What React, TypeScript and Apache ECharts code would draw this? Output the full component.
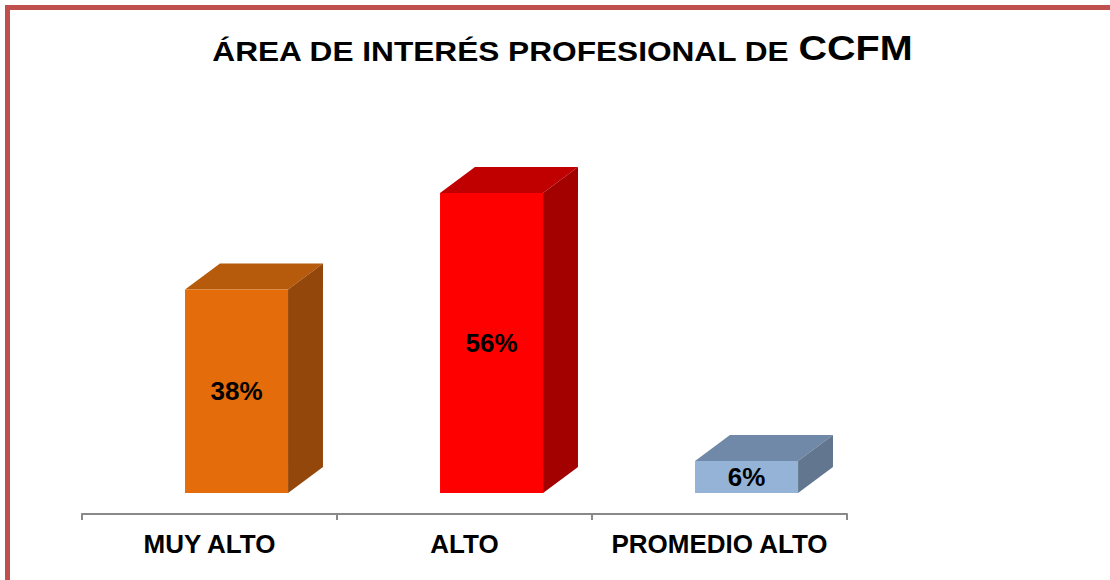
import React, { useEffect, useRef } from "react";
import * as echarts from "echarts";

const categories = ["MUY ALTO", "ALTO", "PROMEDIO ALTO"];
const values = [38, 56, 6];
const frontColors = ["#E46C0A", "#FF0000", "#95B3D7"];
const topColors = ["#B65A0B", "#C00000", "#7189A8"];
const sideColors = ["#94470A", "#A30000", "#62778F"];
const titleMain = "ÁREA DE INTERÉS PROFESIONAL DE ";
const titleAccent = "CCFM";

const FONT = "'Liberation Sans', Arial, Helvetica, sans-serif";

export default function App() {
  const ref = useRef<HTMLDivElement>(null);

  useEffect(() => {
    if (!ref.current) return;
    const chart = echarts.init(ref.current, null, { renderer: "svg" });

    const renderItem = (params: any, api: any) => {
      const idx = api.value(0);
      const val = api.value(1);
      const base = api.coord([idx, 0]);
      const topPt = api.coord([idx, val]);
      const bw = api.size([1, 0])[0];
      const cx = base[0];
      const lift = bw * 0.082;
      const L = cx - bw * 0.096;
      const R = L + bw * 0.404;
      const dx = bw * 0.137;
      const dy = bw * 0.102;
      const yb = base[1] - lift;
      const yt = topPt[1] - lift;
      const i = params.dataIndex;
      return {
        type: "group",
        children: [
          {
            type: "polygon",
            shape: { points: [[L, yt], [L + dx, yt - dy], [R + dx, yt - dy], [R, yt]] },
            style: { fill: topColors[i] },
          },
          {
            type: "polygon",
            shape: { points: [[R, yt], [R + dx, yt - dy], [R + dx, yb - dy], [R, yb]] },
            style: { fill: sideColors[i] },
          },
          {
            type: "polygon",
            shape: { points: [[L, yt], [R, yt], [R, yb], [L, yb]] },
            style: { fill: frontColors[i] },
          },
          {
            type: "text",
            style: {
              text: val + "%",
              x: (L + R) / 2,
              y: (yt + yb) / 2,
              align: "center",
              verticalAlign: "middle",
              fill: "#000000",
              fontFamily: FONT,
              fontWeight: "bold",
              fontSize: 26,
            },
          },
        ],
      };
    };

    chart.setOption({
      animation: false,
      backgroundColor: "#ffffff",
      grid: { left: 82, right: 263, top: 192.6, bottom: 66, containLabel: false },
      xAxis: {
        type: "category",
        data: categories,
        axisLine: { show: true, lineStyle: { color: "#898989", width: 2 } },
        axisTick: { show: true, interval: 0, length: 6, lineStyle: { color: "#898989", width: 2 } },
        axisLabel: {
          interval: 0,
          color: "#000000",
          fontFamily: FONT,
          fontWeight: "bold",
          fontSize: 26,
          verticalAlign: "middle",
          margin: 30,
        },
        splitLine: { show: false },
      },
      yAxis: {
        type: "value",
        min: 0,
        max: 60,
        show: false,
        splitLine: { show: false },
      },
      series: [
        {
          type: "custom",
          renderItem,
          clip: false,
          data: values.map((v, i) => [i, v]),
          encode: { x: 0, y: 1 },
        },
      ],
      graphic: [
        {
          type: "rect",
          shape: { x: 7.5, y: 7.5, width: 1200, height: 700 },
          style: { fill: "none", stroke: "#C0504D", lineWidth: 5 },
          silent: true,
        },
        {
          type: "text",
          x: 562,
          y: 47,
          scaleX: 1.13,
          style: {
            text: `{a|${titleMain}}{b|${titleAccent}}`,
            align: "center",
            verticalAlign: "middle",
            rich: {
              a: { fontFamily: FONT, fontWeight: "bold", fontSize: 28, fill: "#000000", verticalAlign: "bottom", lineHeight: 36 },
              b: { fontFamily: FONT, fontWeight: "bold", fontSize: 35, fill: "#000000", verticalAlign: "bottom", lineHeight: 36 },
            },
          },
        },
      ],
    });

    return () => chart.dispose();
  }, []);

  return (
    <div
      ref={ref}
      style={{ position: "fixed", left: 0, top: 0, width: 1110, height: 580 }}
    />
  );
}
